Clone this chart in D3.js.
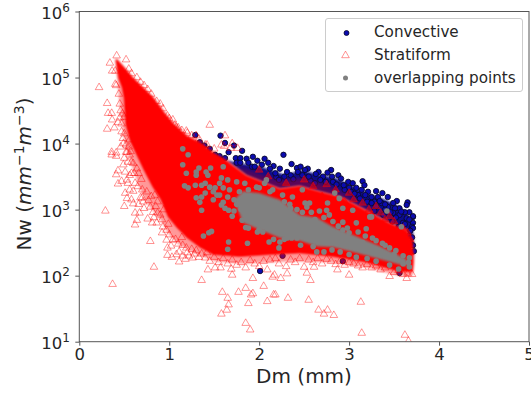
<!DOCTYPE html>
<html><head><meta charset="utf-8">
<script src="https://d3js.org/d3.v7.min.js"></script>
<style>html,body{margin:0;padding:0;background:#fff;overflow:hidden}svg{display:block}text{font-family:"DejaVu Sans",sans-serif;fill:#262626}</style>
</head><body><svg id="c" width="531" height="393"></svg>
<script>
// All pairs are [Dm in mm, log10 of Nw].
const xTicks=[0,1,2,3,4,5];
const yTicks=[10,100,1000,10000,100000,1000000];
const legendLabels=["Convective","Stratiform","overlapping points"];
// Envelopes of the areas where markers merge into a solid mass
const denseTop=[[.40,5.27],[.42,5.28],[.50,5.16],[.60,5.0],[.70,4.87],[.82,4.71],[.95,4.47],[1.04,4.32],[1.2,4.12],[1.35,4.02],[1.49,3.87],[1.6,3.78],[1.86,3.52],[2.23,3.32],[2.45,3.36],[2.67,3.28],[2.9,3.2],[3.19,2.99],[3.45,2.8],[3.64,2.69],[3.71,2.5],[3.72,2.2]];
const denseBottom=[[3.71,2.05],[3.56,2.05],[3.19,2.19],[2.82,2.28],[2.45,2.33],[2.12,2.31],[1.78,2.28],[1.49,2.31],[1.34,2.42],[1.19,2.57],[1.08,2.72],[.98,2.89],[.90,3.15],[.81,3.34],[.71,3.6],[.64,3.80],[.56,4.03],[.51,4.28],[.49,4.69],[.47,4.84],[.43,4.99]];
const fringeOuter=[[3.71,2.0],[3.55,2.0],[3.2,2.12],[2.8,2.2],[2.4,2.22],[2.1,2.2],[1.8,2.18],[1.5,2.22],[1.3,2.33],[1.1,2.48],[1.0,2.62],[.9,2.85],[.75,3.1],[.68,3.3],[.6,3.6],[.54,3.85],[.5,4.05],[.47,4.35],[.44,4.7],[.41,5.2]];
const blueTop=[[1.5,3.78],[1.8,3.70],[2.0,3.66],[2.3,3.52],[2.46,3.6],[2.7,3.52],[2.85,3.48],[3.0,3.38],[3.2,3.25],[3.4,3.15],[3.55,3.05],[3.7,2.85],[3.72,2.4]];
const mixTop=[[1.6,3.72],[1.86,3.6],[2.23,3.42],[2.46,3.46],[2.7,3.38],[2.9,3.27],[3.1,3.12],[3.3,2.95],[3.5,2.8],[3.7,2.62],[3.72,2.4]];
const grayTop=[[1.72,3.15],[1.82,3.28],[2.0,3.25],[2.23,3.15],[2.45,2.92],[2.64,2.88],[2.82,2.74],[3.04,2.62],[3.34,2.45],[3.64,2.25]];
const grayBottom=[[3.64,2.14],[3.34,2.25],[3.04,2.36],[2.82,2.43],[2.64,2.44],[2.45,2.53],[2.23,2.57],[1.82,2.8]];
// Individually visible markers
const convective=[[1.29,4.13],[1.57,4.12],[1.62,4.01],[1.72,3.97],[1.81,3.89],[1.66,3.87],[2.27,3.83],[2.36,3.69],[1.93,3.80],[1.34,4.02],[1.45,3.92],[1.39,3.97],[1.51,3.83],[1.56,3.81],[1.62,3.78],[1.74,3.78],[1.79,3.78],[1.75,3.71],[1.79,3.71],[1.86,3.77],[1.88,3.71],[1.92,3.65],[1.98,3.74],[2.06,3.77],[2.03,3.68],[2.10,3.71],[2.16,3.66],[2.23,3.62],[2.31,3.57],[2.42,3.63],[2.43,3.57],[2.19,3.49],[2.22,3.45],[1.95,3.65],[2.46,3.65],[2.54,3.62],[2.51,3.60],[2.66,3.57],[2.63,3.54],[2.80,3.60],[2.76,3.56],[2.71,3.50],[2.81,3.50],[2.88,3.52],[2.91,3.47],[2.82,3.42],[2.99,3.42],[3.04,3.40],[3.15,3.43],[3.17,3.37],[3.00,3.33],[3.08,3.33],[3.14,3.30],[3.21,3.27],[3.30,3.28],[3.37,3.25],[3.43,3.19],[3.32,3.19],[3.25,3.19],[3.53,3.13],[3.49,3.10],[3.65,3.11],[3.64,3.07],[3.56,3.02],[3.51,3.02],[3.71,2.89],[3.67,2.96],[3.62,2.96],[3.28,3.12],[3.36,3.10],[3.43,3.04],[3.49,2.95],[3.56,2.92],[3.64,2.87],[3.71,2.80],[3.70,2.74],[3.71,2.72],[3.71,2.90],[3.71,2.46],[3.72,2.37],[2.26,2.30],[3.56,2.04],[2.93,2.22],[2.01,2.07],[2.57,3.44],[2.62,3.40],[2.95,3.30],[3.10,3.22],[3.20,3.12],[3.40,3.00],[3.60,2.80],[2.12,3.62],[2.18,3.55],[2.28,3.50],[2.35,3.52],[2.38,3.46],[2.48,3.52],[2.55,3.50],[2.68,3.45],[2.74,3.42],[2.86,3.38],[2.94,3.37],[3.02,3.27],[3.06,3.24],[3.12,3.17],[3.18,3.22],[3.25,3.10],[3.30,3.05],[3.34,3.13],[3.40,3.08],[3.46,2.96],[3.52,2.88],[3.58,2.97],[3.62,2.78],[3.67,2.85],[3.68,2.68],[3.66,2.60],[3.70,2.58],[3.55,2.74],[3.48,2.82],[3.38,2.92],[3.28,2.98],[3.68,2.50]];
const stratiform=[[.415,5.33],[.34,5.22],[.52,5.27],[.22,4.85],[.365,5.10],[.40,5.10],[.40,4.90],[.41,4.88],[.31,4.61],[.32,4.46],[.36,4.46],[.365,4.36],[.31,4.22],[.39,4.24],[.43,4.32],[.45,4.39],[.47,4.18],[.485,4.08],[.56,4.06],[.36,3.87],[.41,3.86],[.53,3.87],[1.04,4.36],[1.06,4.28],[1.19,4.19],[.36,3.83],[.41,3.81],[.52,3.87],[.56,3.83],[.43,3.59],[.41,3.53],[.51,3.57],[.53,3.45],[.43,3.39],[.47,3.43],[.54,3.40],[.51,3.25],[.53,3.17],[.58,3.15],[.50,3.05],[.60,3.09],[.29,2.98],[.62,2.95],[.67,2.95],[.64,2.84],[.62,2.77],[.76,2.86],[.81,2.80],[.71,3.12],[.79,3.04],[.82,2.96],[.87,2.95],[.75,3.27],[.92,2.65],[.97,2.69],[.79,2.52],[.97,2.54],[.98,2.42],[.98,2.31],[1.03,2.28],[1.11,2.21],[1.11,2.36],[1.18,2.25],[1.26,2.27],[1.33,2.28],[1.04,2.54],[1.19,2.42],[.83,2.13],[.37,1.87],[1.36,1.93],[1.59,1.75],[1.77,1.75],[1.85,1.81],[1.93,1.96],[1.65,1.66],[1.66,1.56],[1.64,1.48],[1.58,1.42],[1.88,1.58],[1.93,1.73],[1.91,1.71],[1.85,1.28],[1.90,1.18],[2.05,1.84],[1.43,2.09],[1.51,2.12],[1.57,2.12],[1.69,2.10],[1.70,2.01],[1.85,2.12],[2.09,1.61],[2.16,1.71],[2.18,1.71],[2.32,1.66],[2.55,1.63],[2.66,1.48],[2.72,1.42],[2.76,1.48],[2.83,1.40],[3.13,1.60],[3.14,1.13],[3.62,1.10],[3.66,1.01],[2.31,2.03],[2.24,1.96],[2.15,1.98],[2.17,2.01],[2.53,2.04],[2.57,1.93],[3.00,2.01],[3.45,1.99],[3.64,1.96],[2.87,2.09],[2.09,2.09],[2.50,2.13],[2.61,2.13],[3.15,2.12],[1.61,3.96],[1.68,3.93],[1.76,3.93],[1.58,3.98],[1.30,4.12],[1.40,3.98],[1.45,4.28],[1.62,4.12],[1.70,4.00],[1.2,4.16],[1.1,4.24],[.98,4.42],[.9,4.6],[.76,4.82],[.64,5.0],[.55,5.13],[1.45,2.22],[1.55,2.20],[1.65,2.18],[1.75,2.16],[1.95,2.18],[2.0,2.14],[2.22,2.18],[2.3,2.14],[2.4,2.2],[2.6,2.2],[2.7,2.18],[2.8,2.22],[2.95,2.16],[3.05,2.18],[3.25,2.12],[3.35,2.09],[3.5,2.05],[3.6,2.02],[1.2,2.35],[1.28,2.33],[1.4,2.27],[.70,3.3],[.66,3.55],[.60,3.7],[.62,3.4],[.55,3.95],[.50,4.15],[.48,4.45],[.80,3.2],[.85,3.05],[.92,2.85],[1.0,2.62],[1.1,2.48],[1.25,2.4],[.58,3.55],[.68,3.18],
[.45,4.6],[.46,4.5],[.44,4.75],[.47,4.3],[.50,4.4],[.49,4.0],[.52,3.98],[.46,3.95],[.54,3.72],[.58,3.72],[.50,3.78],[.57,3.88],[.49,3.68],[.56,3.52],[.61,3.55],[.64,3.62],[.60,3.28],[.56,3.30],[.65,3.35],[.69,3.46],[.66,3.08],[.72,3.02],[.70,3.18],[.77,3.14],[.84,3.22],[.87,3.12],[.83,2.88],[.90,2.92],[.94,3.0],[.86,2.8],[.93,2.74],[.99,2.78],[1.02,2.45],[1.07,2.55],[1.14,2.58],[1.08,2.32],[1.15,2.3],[1.15,2.46],[1.22,2.3],[1.3,2.38],[1.36,2.33],[1.42,2.35],[1.5,2.28],[1.6,2.26],[1.7,2.24],[1.8,2.2],[1.9,2.23],[2.05,2.22],[2.12,2.24],[2.18,2.26],[2.35,2.24],[2.45,2.26],[2.55,2.24],[2.65,2.26],[2.75,2.25],[2.85,2.17],[2.9,2.22],[3.0,2.2],[3.1,2.15],[3.2,2.17],[3.3,2.15],[3.4,2.12],[3.55,2.08],[3.65,2.03],[3.7,2.02],
[.58,5.06],[.68,4.93],[.72,4.88],[.8,4.75],[.86,4.64],[.93,4.53],[1.0,4.38],[1.08,4.25],[1.14,4.2],[1.25,4.12],[1.33,4.07],[1.42,3.98],[1.5,3.92]];
const overlapping=[[1.15,3.92],[1.21,3.83],[1.15,3.68],[1.19,3.55],[1.30,3.57],[1.30,3.52],[1.33,3.63],[1.41,3.57],[1.46,3.63],[1.43,3.52],[1.60,3.65],[1.29,3.37],[1.17,3.36],[1.21,3.33],[1.36,3.37],[1.40,3.40],[1.45,3.34],[1.51,3.33],[1.49,3.27],[1.56,3.40],[1.58,3.48],[1.65,3.45],[1.75,3.42],[1.84,3.40],[1.60,3.33],[1.67,3.30],[1.53,3.22],[1.56,3.22],[1.30,3.18],[1.36,3.19],[1.40,3.25],[1.34,3.11],[1.49,3.15],[1.65,3.19],[1.60,3.11],[1.97,3.34],[2.06,3.40],[2.08,3.45],[2.15,3.30],[2.26,3.22],[2.37,3.19],[1.36,2.99],[1.38,2.60],[1.44,2.65],[1.47,2.67],[1.66,2.51],[1.65,2.40],[1.87,2.49],[1.85,2.73],[1.98,2.66],[2.04,2.66],[2.09,2.72],[2.11,2.51],[2.16,2.55],[2.23,2.51],[2.22,2.42],[2.31,2.57],[2.36,2.57],[2.42,2.57],[1.81,2.84],[1.93,2.83],[1.66,2.99],[1.58,3.07],[2.93,3.02],[3.04,2.99],[3.23,2.89],[3.42,2.98],[3.58,2.74],[3.19,2.71],[3.08,2.80],[2.93,2.81],[2.93,2.69],[3.00,2.65],[2.78,2.92],[2.67,2.98],[2.48,2.96],[2.53,3.04],[3.37,2.49],[3.45,2.42],[3.26,2.57],[2.81,2.39],[2.64,2.36],[3.08,2.28],[3.67,2.27],[3.67,2.13],[2.48,3.30],[2.51,3.10],[2.56,3.10],[2.76,3.10],[2.84,3.25],[2.89,3.17],[2.75,2.99],[3.25,2.89],[1.75,3.08],[1.9,3.2],[1.95,3.0],[2.05,3.1],[2.15,3.0],[2.3,2.9],[2.35,3.02],[2.4,2.75],[2.1,2.85],[1.9,2.9],[2.2,2.7],[2.55,2.6],[2.7,2.6],[3.15,2.5],[3.5,2.32],[3.6,2.18],[1.72,3.15],[1.78,3.27],[1.88,3.3],[2.0,3.33],[2.12,3.27],[2.28,3.12],[2.34,3.08],[2.42,3.0],[2.58,2.96],[2.62,2.85],[2.72,2.88],[2.82,2.82],[2.88,2.75],[2.98,2.72],[3.1,2.66],[3.18,2.6],[3.3,2.53],[3.4,2.46],[3.52,2.38],[3.6,2.3],[3.66,2.2],[1.88,2.72],[2.0,2.7],[2.28,2.55],[2.46,2.46],[2.6,2.44],[2.72,2.36],[2.9,2.36],[3.0,2.32],[3.2,2.26],[3.3,2.22],[3.45,2.16],[3.55,2.1],[1.7,2.9],[1.72,2.98],[1.62,3.02],[1.8,3.0]];
const mixSpeckle=[[2.0,3.6],[2.1,3.5],[2.3,3.4],[2.5,3.45],[2.6,3.35],[2.75,3.38],[2.85,3.3],[3.0,3.25],[3.05,3.15],[3.15,3.1],[3.22,3.0],[3.3,3.05],[3.35,2.95],[3.45,2.9],[3.5,2.82],[3.6,2.72],[3.65,2.65],[3.68,2.55],[3.4,2.85],[3.25,2.92],[2.95,3.12],[2.7,3.2],[3.55,2.62],[3.62,2.48],[3.68,2.35]];

const W=531,H=393,L=79.3,R=529,T=11.5,B=341.7;
const svg=d3.select("#c");
const x=d3.scaleLinear().domain([0,5]).range([L,R]);
const y=d3.scaleLog().domain([10,1e6]).range([B,T]);
const px=d=>x(d[0]), py=d=>y(Math.pow(10,d[1]));
const line=d3.line().x(px).y(py);
const poly=a=>line(a)+"Z";
const defs=svg.append("defs");
defs.append("clipPath").attr("id","plot").append("rect").attr("x",L).attr("y",T).attr("width",R-L).attr("height",B-T);
defs.append("filter").attr("id","soft").attr("x","-20%").attr("y","-20%").attr("width","140%").attr("height","140%").append("feGaussianBlur").attr("stdDeviation",2.5);
defs.append("filter").attr("id","edge").append("feGaussianBlur").attr("stdDeviation",.8);
const g=svg.append("g").attr("clip-path","url(#plot)");
const blue="#0b0bb0", red="#ff0000", gray="#808080";
const tri=d3.symbol().type(d3.symbolTriangle).size(25);
const rev=a=>a.slice().reverse();

// convective layer, lowest
g.append("path").attr("d",poly(blueTop.concat(rev(denseTop).filter(d=>d[0]>=1.5)))).attr("fill","#0a0a8a").attr("filter","url(#edge)");
g.append("g").selectAll("circle").data(convective).join("circle").attr("cx",px).attr("cy",py).attr("r",2.7).attr("fill",blue).attr("stroke","#0a0a2a").attr("stroke-width",.9);
// stratiform layer
g.append("path").attr("d",poly(mixTop.concat(rev(denseTop).filter(d=>d[0]>=1.6)))).attr("fill","#9a0030").attr("opacity",.7).attr("filter","url(#soft)");
g.append("path").attr("d",poly(denseBottom.concat(rev(fringeOuter)))).attr("fill",red).attr("opacity",.4).attr("filter","url(#edge)");
g.append("path").attr("d",poly(denseTop.concat(denseBottom))).attr("fill",red).attr("filter","url(#edge)");
g.append("g").selectAll("path").data(stratiform).join("path").attr("d",tri).attr("transform",d=>`translate(${px(d)},${py(d)})`).attr("fill","none").attr("stroke",red).attr("stroke-opacity",.42).attr("stroke-width",1);
g.append("g").selectAll("path").data(mixSpeckle).join("path").attr("d",tri).attr("transform",d=>`translate(${px(d)},${py(d)})`).attr("fill",red).attr("fill-opacity",.5).attr("stroke",red).attr("stroke-opacity",.45);
// overlapping layer
g.append("path").attr("d",poly(grayTop.concat(grayBottom))).attr("fill",gray).attr("filter","url(#edge)");
g.append("g").selectAll("circle").data(overlapping).join("circle").attr("cx",px).attr("cy",py).attr("r",2.8).attr("fill",gray);

// frame and axes
svg.append("rect").attr("x",L).attr("y",T).attr("width",R-L).attr("height",B-T).attr("fill","none").attr("stroke","#555").attr("stroke-width",1);
const ax=svg.append("g").attr("transform",`translate(0,${B})`).call(d3.axisBottom(x).tickValues(xTicks).tickSize(4).tickPadding(3).tickFormat(d3.format("d")));
const ay=svg.append("g").attr("transform",`translate(${L},0)`).call(d3.axisLeft(y).tickValues(yTicks).tickSize(4).tickPadding(3).tickFormat(()=>""));
[ax,ay].forEach(a=>{a.select(".domain").remove();a.selectAll("line").attr("stroke","#555");});
ax.selectAll("text").attr("font-size",16.5).attr("font-family",'"DejaVu Sans"').attr("fill","#262626");
ay.selectAll("g.tick").each(function(d){
  const t=d3.select(this).select("text").text(null).attr("font-size",16.5).attr("font-family",'"DejaVu Sans"').attr("fill","#262626").attr("x",-9.5).attr("dy",".42em");
  t.append("tspan").text("10");
  t.append("tspan").attr("font-size",12).attr("dy","-.62em").text(String(Math.round(Math.log10(d))));
});
svg.append("text").attr("x",304).attr("y",383).attr("text-anchor","middle").attr("font-size",20).text("Dm (mm)");
const yl=svg.append("text").attr("transform",`translate(31,174) rotate(-90)`).attr("text-anchor","middle").attr("font-size",20);
yl.append("tspan").text("Nw (");
yl.append("tspan").attr("font-style","italic").text("mm");
yl.append("tspan").attr("font-size",14).attr("dy","-7").text("−1");
yl.append("tspan").attr("font-style","italic").attr("dy","7").text("m");
yl.append("tspan").attr("font-size",14).attr("dy","-7").text("−3");
yl.append("tspan").attr("dy","7").text(")");

// legend
const lg=svg.append("g");
lg.append("rect").attr("x",325.5).attr("y",18.5).attr("width",197).attr("height",73).attr("rx",2.5).attr("fill","#fff").attr("fill-opacity",.8).attr("stroke","#ccc");
const ly=[33,55.5,78], lt=[37,60,83];
lg.selectAll("text").data(legendLabels).join("text").attr("x",374).attr("y",(d,i)=>lt[i]).attr("font-size",15.2).text(d=>d);
lg.append("circle").attr("cx",346.5).attr("cy",ly[0]).attr("r",2.5).attr("fill",blue).attr("stroke","#0a0a2a").attr("stroke-width",.8);
lg.append("path").attr("d",tri).attr("transform",`translate(345.5,${ly[1]})`).attr("fill","none").attr("stroke",red).attr("stroke-opacity",.42);
lg.append("circle").attr("cx",345.5).attr("cy",ly[2]).attr("r",2.5).attr("fill",gray);
</script></body></html>
